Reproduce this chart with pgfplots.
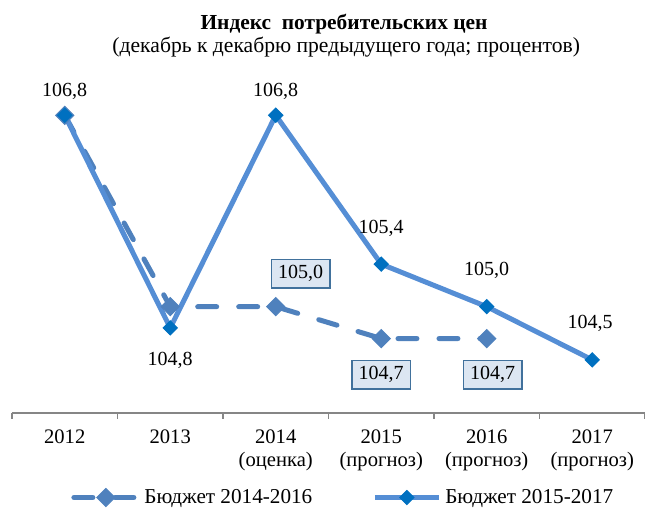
\documentclass[border=0pt]{standalone}
\usepackage{fontspec}
\setmainfont{Liberation Serif}
\usepackage{pgfplots}
\pgfplotsset{compat=1.18}
\definecolor{sOne}{HTML}{4F81BD}
\definecolor{sTwoLine}{HTML}{558ED5}
\definecolor{sTwoMark}{HTML}{0070C0}
\definecolor{boxFill}{HTML}{DCE6F2}
\definecolor{boxDraw}{HTML}{41719C}
\definecolor{axisGray}{HTML}{868686}

\begin{document}
\begin{tikzpicture}[font=\fontsize{10}{12}\selectfont,
  vbox/.style={draw=boxDraw, fill=boxFill, line width=0.75pt, inner xsep=3.3pt, inner ysep=3pt}]
\begin{axis}[
  scale only axis, width=316.5pt, height=159.5pt,
  xmin=-0.5, xmax=5.5, ymin=104, ymax=107,
  axis x line*=bottom, axis y line=none,
  x axis line style={axisGray, line width=0.75pt},
  xtick={0,...,5},
  xticklabels={2012,2013,{2014\\(оценка)},{2015\\(прогноз)},{2016\\(прогноз)},{2017\\(прогноз)}},
  xticklabel style={align=center, anchor=north, yshift=-5pt, font=\fontsize{10.3}{11.5}\selectfont},
  major tick length=0pt,
  minor xtick={-0.5,0.5,...,5.5},
  minor tick length=3pt, tick align=outside,
  minor tick style={axisGray, line width=0.75pt},
  clip=false,
  legend style={at={(0.525,-0.265)}, anchor=center, draw=none, fill=none,
    legend columns=2, font=\fontsize{10.6}{12}\selectfont,
    /tikz/every even column/.append style={column sep=28pt}},
  legend image code/.code={\draw[mark repeat=2, mark phase=2] plot coordinates {(0pt,0pt) (16pt,0pt) (32pt,0pt)};},
]
\coordinate (sw) at (axis description cs:0,0);

% Бюджет 2014-2016
\addplot[sOne, line width=2.5pt, line cap=round, dash pattern=on 9.5pt off 11pt,
  mark=square*, mark size=3.2pt, mark options={solid, rotate=45, fill=sOne, draw=sOne, line width=0.5pt}]
  coordinates {(0,106.8) (1,105.0) (2,105.0) (3,104.7) (4,104.7)};
\addlegendentry{Бюджет 2014-2016}

% Бюджет 2015-2017
\addplot[sTwoLine, line width=2.5pt,
  mark=square*, mark size=2.5pt, mark options={rotate=45, fill=sTwoMark, draw=sTwoMark, line width=0.5pt}]
  coordinates {(0,106.8) (1,104.8) (2,106.8) (3,105.4) (4,105.0) (5,104.5)};
\addlegendentry{Бюджет 2015-2017}

\node at (axis cs:0,106.8) [yshift=12pt] {106,8};
\node at (axis cs:1,104.8) [yshift=-16pt] {104,8};
\node at (axis cs:2,106.8) [yshift=12pt] {106,8};
\node at (axis cs:3,105.4) [yshift=18pt] {105,4};
\node at (axis cs:4,105.0) [yshift=18pt] {105,0};
\node at (axis cs:5,104.5) [yshift=18pt, xshift=-1pt] {104,5};

\node[vbox] at (axis cs:2,105.0) [xshift=12.5pt, yshift=16.5pt] {105,0};
\node[vbox] at (axis cs:3,104.7) [yshift=-18pt] {104,7};
\node[vbox] at (axis cs:4,104.7) [xshift=3pt, yshift=-18pt] {104,7};

\node[font=\fontsize{10.7}{12}\selectfont\bfseries] at (axis description cs:0.5245,1.218) {Индекс\ \ потребительских цен};
\node[font=\fontsize{10.8}{12}\selectfont] at (axis description cs:0.528,1.148) {(декабрь к декабрю предыдущего года; процентов)};
\end{axis}
\pgfresetboundingbox
\path ([shift={(-6pt,-48pt)}]sw) rectangle ([shift={(316.5pt,206.5pt)}]sw);
\end{tikzpicture}
\end{document}
